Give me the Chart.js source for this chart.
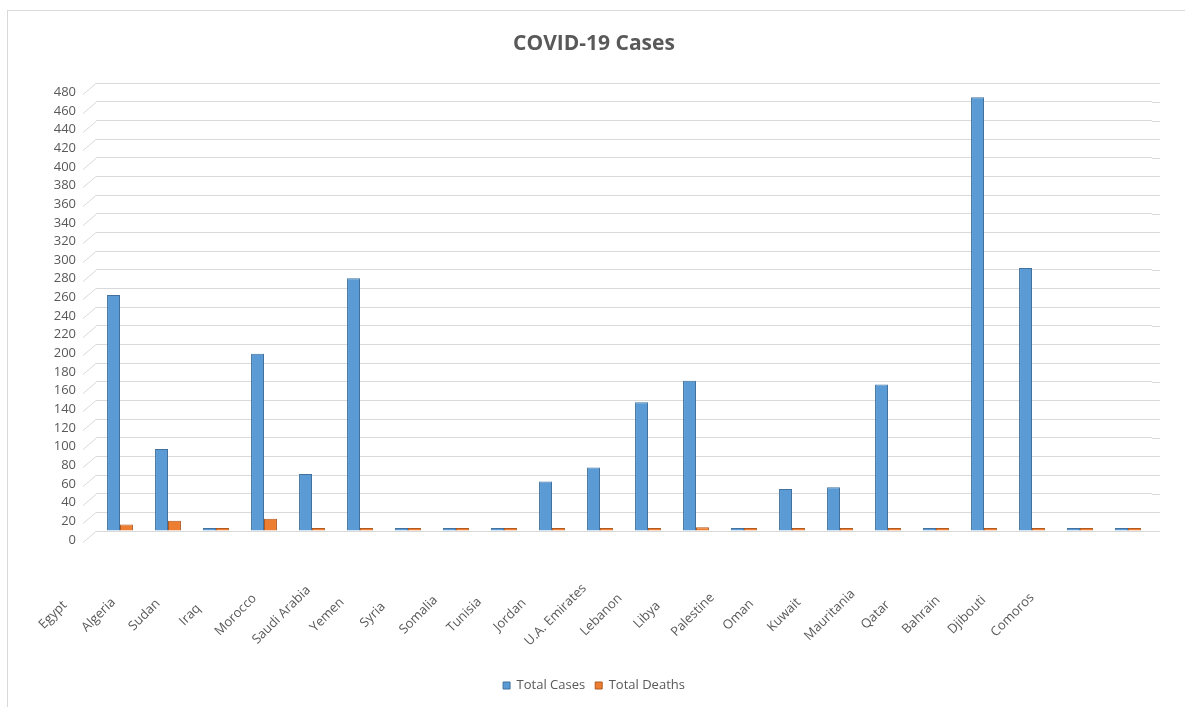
<!DOCTYPE html>
<html>
<head>
<meta charset="utf-8">
<script src="https://cdn.jsdelivr.net/npm/chart.js@4/dist/chart.umd.min.js"></script>
<style>
  body { margin: 0; background: #fff; }
  #frame { position: absolute; left: 7px; top: 10px; width: 1190px; height: 700px; border: 1px solid #d9d9d9; }
  #covid-chart { position: absolute; left: 0; top: 0; }
</style>
</head>
<body>
<div id="frame"></div>
<canvas id="covid-chart" width="1185" height="707"></canvas>
<script>
const countries = ["Egypt", "Algeria", "Sudan", "Iraq", "Morocco", "Saudi Arabia", "Yemen", "Syria",
  "Somalia", "Tunisia", "Jordan", "U.A. Emirates", "Lebanon", "Libya", "Palestine", "Oman",
  "Kuwait", "Mauritania", "Qatar", "Bahrain", "Djibouti", "Comoros"];
const totalCases = [253, 88, 2, 190, 61, 271, 1, 0.5, 1, 53, 68, 138, 161, 0.5, 45, 47, 157, 2, 465, 282, 1.5, 0.5];
const totalDeaths = [7, 11, 0.5, 13, 2, 0.3, 0.3, 0.3, 0.3, 1, 0.5, 0.5, 4, 0.3, 0.5, 0.5, 0.5, 0.3, 0.5, 1.5, 0.5, 0.5];
const yTicks = [0, 20, 40, 60, 80, 100, 120, 140, 160, 180, 200, 220, 240, 260, 280, 300, 320, 340, 360, 380, 400, 420, 440, 460, 480];

const textColor = "#595959";
const fontFamily = "'Open Sans', 'Liberation Sans', sans-serif";

//slanted 3d floor stubs on the left of each gridline, plus the bit of wall past the last bar
const stubs = {
  id: "stubs",
  beforeDatasetsDraw(chart) {
    const y = chart.scales.y;
    const area = chart.chartArea;
    const ctx = chart.ctx;
    ctx.save();
    ctx.strokeStyle = "#d9d9d9";
    ctx.lineWidth = 1;
    yTicks.forEach((t) => {
      const py = Math.round(y.getPixelForValue(t)) + 0.5;
      ctx.beginPath();
      ctx.moveTo(y.right - 13, py + 11);
      ctx.lineTo(y.right, py);
      ctx.moveTo(area.right, py);
      ctx.lineTo(area.right + 8, py);
      ctx.stroke();
    });
    ctx.restore();
  }
};

//category labels, a little compressed like the perspective in the original
const catLabels = {
  id: "catLabels",
  afterDraw(chart) {
    const x = chart.scales.x;
    const ctx = chart.ctx;
    const p0 = x.getPixelForValue(0);
    ctx.save();
    ctx.fillStyle = textColor;
    ctx.font = "13px " + fontFamily;
    ctx.textAlign = "center";
    ctx.textBaseline = "middle";
    countries.forEach((name, i) => {
      const px = x.getPixelForValue(i);
      const lx = p0 - 67 + (px - p0) * 0.952;
      ctx.save();
      ctx.translate(lx, 615);
      ctx.rotate(-Math.PI / 4);
      ctx.fillText(name, 0, 0);
      ctx.restore();
    });
    ctx.restore();
  }
};

new Chart(document.getElementById("covid-chart"), {
  type: "bar",
  data: {
    labels: countries,
    datasets: [{
      label: "Total Cases",
      data: totalCases,
      backgroundColor: "#5B9BD5",
      borderColor: "#41719C",
      borderWidth: 1,
      minBarLength: 3,
      barPercentage: 1,
      categoryPercentage: 0.54
    }, {
      label: "Total Deaths",
      data: totalDeaths,
      backgroundColor: "#ED7D31",
      borderColor: "#AE5A21",
      borderWidth: 1,
      minBarLength: 3,
      barPercentage: 1,
      categoryPercentage: 0.54
    }]
  },
  options: {
    responsive: false,
    animation: false,
    layout: { padding: { left: 36, right: 33, top: 0, bottom: 5 } },
    plugins: {
      title: {
        display: true,
        text: "COVID-19 Cases",
        color: textColor,
        font: { family: fontFamily, size: 21, weight: "bold" },
        padding: { top: 31, bottom: 27 }
      },
      legend: {
        position: "bottom",
        labels: {
          color: textColor,
          font: { family: fontFamily, size: 13 },
          boxWidth: 7,
          boxHeight: 7,
          padding: 10
        }
      },
      tooltip: { enabled: false }
    },
    scales: {
      x: {
        grid: { display: false },
        border: { display: false },
        ticks: { display: false },
        afterFit(scale) { scale.height = 138; }
      },
      y: {
        min: 0,
        max: 480,
        afterFit(scale) { scale.width = 60; },
        grid: { color: "#d9d9d9", drawTicks: false },
        border: { display: false },
        ticks: {
          stepSize: 20,
          color: textColor,
          font: { family: fontFamily, size: 13 },
          padding: 20,
          labelOffset: 9
        }
      }
    }
  },
  plugins: [stubs, catLabels]
});
</script>
</body>
</html>
